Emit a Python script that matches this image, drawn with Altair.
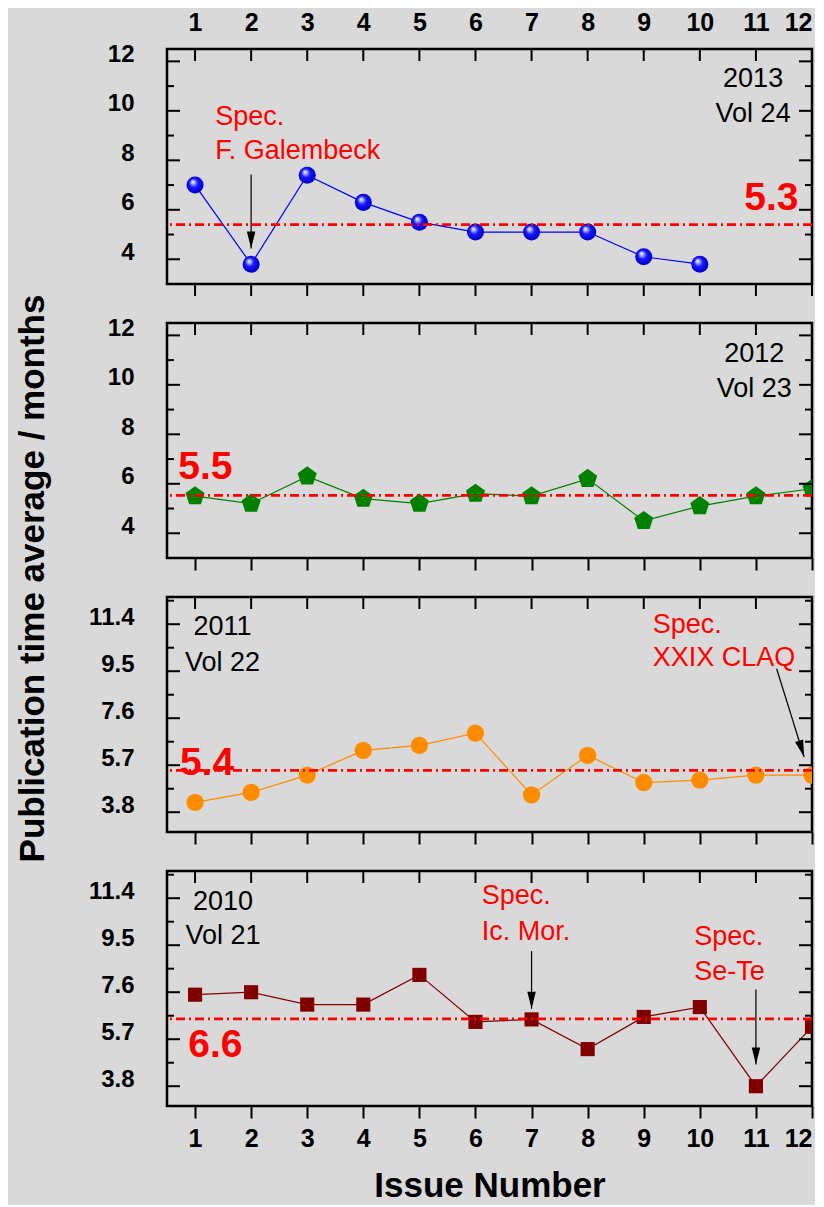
import math
import altair as alt
import pandas as pd

# ---------------- data ----------------
ISSUES = list(range(1, 13))
V2013 = [7.0, 3.8, 7.4, 6.3, 5.5, 5.1, 5.1, 5.1, 4.1, 3.8]
V2012 = [5.5, 5.2, 6.3, 5.4, 5.2, 5.6, 5.5, 6.2, 4.5, 5.1, 5.5, 5.8]
V2011 = [4.2, 4.6, 5.3, 6.3, 6.5, 7.0, 4.5, 6.1, 5.0, 5.1, 5.3, 5.3]
V2010 = [7.5, 7.6, 7.1, 7.1, 8.3, 6.4, 6.5, 5.3, 6.6, 7.0, 3.8, 6.2]

MEAN_LABELS = ["5.3", "5.5", "5.4", "6.6"]
MEAN_LEVELS = [5.4, 5.53, 5.49, 6.52]
MEAN_LABEL_X = [11.76, 0.70, 0.73, 0.88]
MEAN_LABEL_Y = [6.0, 6.2, 5.31, 5.0]
MEAN_LABEL_ALIGN = ["right", "left", "left", "left"]

YEARS = ["2013", "2012", "2011", "2010"]
VOLS = ["Vol 24", "Vol 23", "Vol 22", "Vol 21"]
YEAR_X = [10.95, 10.97, 1.49, 1.5]
YEAR_Y = [10.96, 10.93, 10.95, 10.94]
VOL_Y = [9.56, 9.51, 9.5, 9.53]

# red notes: panel index, text, x (left edge), y (baseline)
NOTE_PANEL = [0, 0, 2, 2, 3, 3, 3, 3]
NOTE_TEXT = ["Spec.", "F. Galembeck", "Spec.", "XXIX CLAQ",
             "Spec.", "Ic. Mor.", "Spec.", "Se-Te"]
NOTE_X = [1.36, 1.36, 9.16, 9.16, 6.11, 6.11, 9.9, 9.9]
NOTE_Y = [9.42, 8.07, 11.05, 9.7, 11.17, 9.73, 9.49, 8.11]

# arrows: panel index, start (x, y) -> tip (x, y)
ARROW_PANEL = [0, 2, 3, 3]
ARROW_X1 = [2.0, 11.37, 7.0, 11.0]
ARROW_Y1 = [7.43, 9.6, 9.26, 7.71]
ARROW_X2 = [2.0, 11.86, 7.0, 11.0]
ARROW_Y2 = [4.44, 6.03, 6.93, 4.68]

MAJOR_A = [4, 6, 8, 10, 12]
MINOR_A = [5, 7, 9, 11]
MAJOR_B = [3.8, 5.7, 7.6, 9.5, 11.4]
MINOR_B = [4.75, 6.65, 8.55, 10.45, 12.35]

# ---------------- style ----------------
W, H = 645, 235
XDOM = [0.5, 12]
YDOM = [3, 12.5]
FONT = "Liberation Sans"
BG = "#d9d9d9"

xs = alt.Scale(domain=XDOM, nice=False, zero=False)
ys = alt.Scale(domain=YDOM, nice=False, zero=False)

PENTAGON = "M 0 -1 L 0.951 -0.309 L 0.588 0.809 L -0.588 0.809 L -0.951 -0.309 Z"
ARROW_HEAD = "M 0 0 L -0.25 -1 L 0.25 -1 Z"

SPHERE = alt.Gradient(
    gradient="radial", x1=0.36, y1=0.3, r1=0.0, x2=0.5, y2=0.5, r2=0.6,
    stops=[alt.GradientStop(offset=0.0, color="#ffffff"),
           alt.GradientStop(offset=0.18, color="#aab0ff"),
           alt.GradientStop(offset=0.42, color="#1a1aff"),
           alt.GradientStop(offset=0.8, color="#0000d0"),
           alt.GradientStop(offset=1.0, color="#00008a")])


def make_axes(i, major, fmt):
    y_kw = dict(values=major, format=fmt, ticks=False, tickSize=0, domain=False,
                grid=False, labelFont=FONT, labelFontWeight="bold",
                labelFontSize=24, labelColor="black", labelPadding=33,
                labelOffset=-7)
    if i == 1:
        y_kw.update(title="Publication time average / months", titleFont=FONT,
                    titleFontWeight="bold", titleFontSize=35, titleColor="black",
                    titleX=-135, titleY=255, titleAngle=270, titleAlign="center",
                    titleBaseline="middle")
    else:
        y_kw.update(title=None)
    yaxis = alt.Axis(**y_kw)

    if i == 0:
        xaxis = alt.Axis(orient="top", values=ISSUES, format="d", ticks=False,
                         tickSize=0, domain=False, grid=False, labelFont=FONT,
                         labelFontWeight="bold", labelFontSize=25,
                         labelColor="black", labelPadding=14, title=None)
    elif i == 3:
        xaxis = alt.Axis(orient="bottom", values=ISSUES, format="d", ticks=True,
                         tickSize=12, tickWidth=2, tickColor="black", domain=False,
                         grid=False, labelFont=FONT, labelFontWeight="bold",
                         labelFontSize=25, labelColor="black", labelPadding=8,
                         title="Issue Number", titleFont=FONT,
                         titleFontWeight="bold", titleFontSize=35,
                         titleColor="black", titlePadding=17)
    else:
        xaxis = alt.Axis(orient="bottom", values=ISSUES, labels=False, ticks=True,
                         tickSize=12, tickWidth=2, tickColor="black", domain=False,
                         grid=False, title=None)
    return xaxis, yaxis


def panel(i, vals, color, marker, major, minor, fmt):
    xaxis, yaxis = make_axes(i, major, fmt)

    def X(f):
        return alt.X(f, scale=xs, axis=xaxis)

    def Y(f):
        return alt.Y(f, scale=ys, axis=yaxis)

    def y_ticks(vals_, length, right=False):
        x0 = W if right else 0
        x1 = W - length if right else length
        return alt.Chart(pd.DataFrame({"v": vals_})).mark_rule(
            color="black", strokeWidth=2).encode(
            y=Y("v:Q"), x=alt.value(x0), x2=alt.value(x1))

    def x_ticks(vals_, y0, y1):
        return alt.Chart(pd.DataFrame({"v": vals_})).mark_rule(
            color="black", strokeWidth=2).encode(
            x=X("v:Q"), y=alt.value(y0), y2=alt.value(y1))

    df = pd.DataFrame({"issue": ISSUES[:len(vals)], "t": vals})
    base = alt.Chart(df)

    line = base.mark_line(color=color, strokeWidth=1.2, clip=True).encode(
        x=X("issue:Q"), y=Y("t:Q"))

    enc = dict(x=X("issue:Q"), y=Y("t:Q"))
    if marker == "sphere":
        pts = base.mark_point(shape="circle", filled=True, fill=SPHERE,
                              strokeOpacity=0, size=290, opacity=1,
                              clip=True).encode(**enc)
    elif marker == "pentagon":
        pts = base.mark_point(shape=PENTAGON, filled=True, color=color,
                              size=400, opacity=1, clip=True).encode(**enc)
    elif marker == "circle":
        pts = base.mark_point(shape="circle", filled=True, color=color,
                              size=300, opacity=1, clip=True).encode(**enc)
    else:
        pts = base.mark_point(shape="square", filled=True, color=color,
                              size=200, opacity=1, clip=True).encode(**enc)

    mean = alt.Chart(pd.DataFrame({"m": [MEAN_LEVELS[i]]})).mark_rule(
        color="#ff0000", strokeWidth=2.8, strokeDash=[9, 4, 2, 4]).encode(
        y=Y("m:Q"))

    mean_txt = alt.Chart(pd.DataFrame({
        "x": [MEAN_LABEL_X[i]], "y": [MEAN_LABEL_Y[i]], "s": [MEAN_LABELS[i]]
    })).mark_text(align=MEAN_LABEL_ALIGN[i], baseline="alphabetic", font=FONT,
                  fontWeight="bold", fontSize=39, color="#ff0000").encode(
        x=X("x:Q"), y=Y("y:Q"), text="s:N")

    year_txt = alt.Chart(pd.DataFrame({
        "x": [YEAR_X[i], YEAR_X[i]], "y": [YEAR_Y[i], VOL_Y[i]],
        "s": [YEARS[i], VOLS[i]]
    })).mark_text(align="center", baseline="alphabetic", font=FONT,
                  fontSize=27, color="black").encode(
        x=X("x:Q"), y=Y("y:Q"), text="s:N")

    layers = [line, pts,
              y_ticks(major, 13), y_ticks(minor, 7),
              y_ticks(major, 13, right=True), y_ticks(minor, 7, right=True),
              x_ticks(ISSUES, 0, 12)]
    if i == 0:
        layers.append(x_ticks(ISSUES, H, H + 12))
    layers += [mean, mean_txt, year_txt]

    nidx = [k for k, p in enumerate(NOTE_PANEL) if p == i]
    if nidx:
        ndf = pd.DataFrame({"x": [NOTE_X[k] for k in nidx],
                            "y": [NOTE_Y[k] for k in nidx],
                            "s": [NOTE_TEXT[k] for k in nidx]})
        layers.append(alt.Chart(ndf).mark_text(
            align="left", baseline="alphabetic", font=FONT, fontSize=27,
            color="#ff0000").encode(x=X("x:Q"), y=Y("y:Q"), text="s:N"))

    aidx = [k for k, p in enumerate(ARROW_PANEL) if p == i]
    if aidx:
        px_x = W / (XDOM[1] - XDOM[0])
        px_y = H / (YDOM[1] - YDOM[0])
        angs = []
        for k in aidx:
            dx = (ARROW_X2[k] - ARROW_X1[k]) * px_x
            dy = (ARROW_Y1[k] - ARROW_Y2[k]) * px_y
            angs.append(math.degrees(math.atan2(-dx, dy)) % 360)
        adf = pd.DataFrame({"x1": [ARROW_X1[k] for k in aidx],
                            "y1": [ARROW_Y1[k] for k in aidx],
                            "x2": [ARROW_X2[k] for k in aidx],
                            "y2": [ARROW_Y2[k] for k in aidx],
                            "ang": angs})
        shaft = alt.Chart(adf).mark_rule(color="black", strokeWidth=1.2).encode(
            x=X("x1:Q"), x2="x2:Q", y=Y("y1:Q"), y2="y2:Q")
        head = alt.Chart(adf).mark_point(shape=ARROW_HEAD, filled=True,
                                         color="black", size=1156,
                                         opacity=1).encode(
            x=X("x2:Q"), y=Y("y2:Q"), angle=alt.Angle("ang:Q", scale=None))
        layers += [shaft, head]

    return alt.layer(*layers).properties(width=W, height=H)


p1 = panel(0, V2013, "#0000ff", "sphere", MAJOR_A, MINOR_A, "d")
p2 = panel(1, V2012, "#008000", "pentagon", MAJOR_A, MINOR_A, "d")
p3 = panel(2, V2011, "#ff8c00", "circle", MAJOR_B, MINOR_B, ".1f")
p4 = panel(3, V2010, "#800000", "square", MAJOR_B, MINOR_B, ".1f")

chart = alt.vconcat(p1, p2, p3, p4, spacing=39, bounds="flush").properties(
    background=BG, padding={"left": 5, "top": 0, "right": 0, "bottom": 0}
).configure_view(stroke="black", strokeWidth=2.5)

chart.save("out.html", embed_options={"renderer": "svg", "actions": False})
